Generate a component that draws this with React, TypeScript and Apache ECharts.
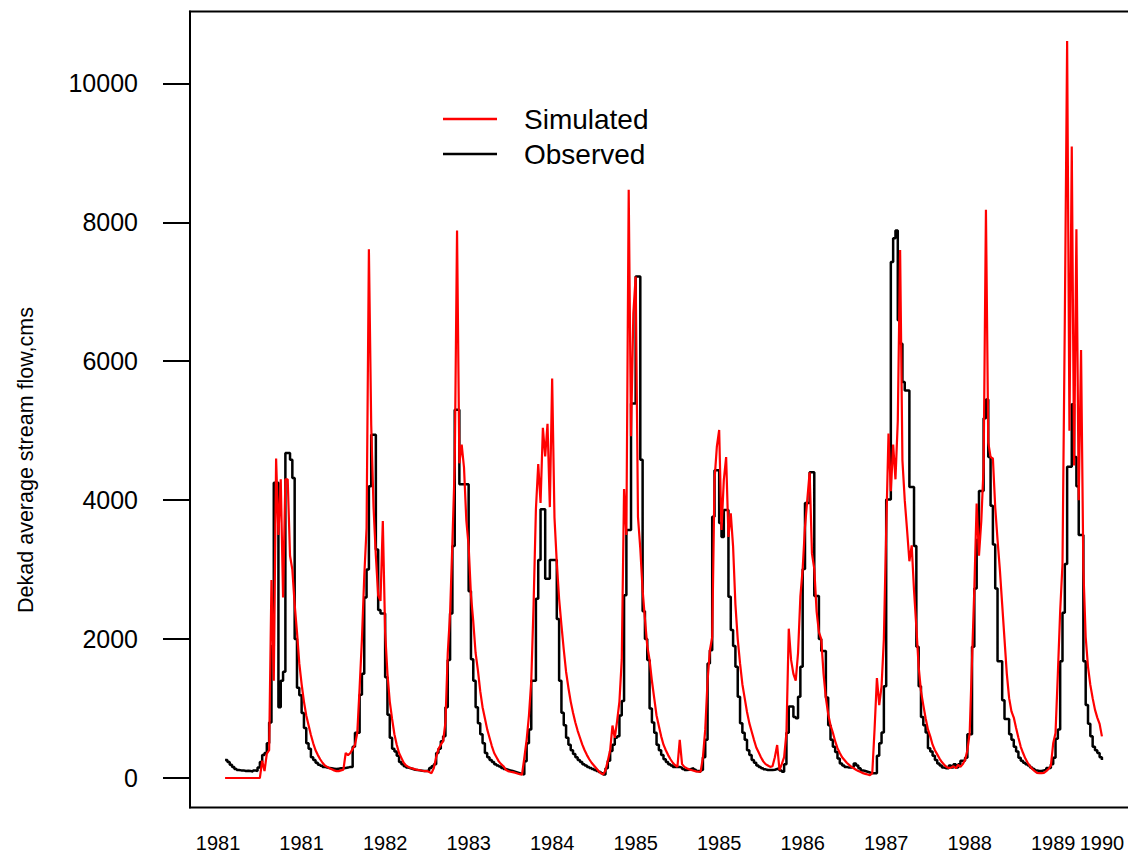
import React, { useEffect, useRef } from "react";
import * as echarts from "echarts";

// Dekad index runs 0..378; values in cms
const observed: number[] = [
  259, 230, 190, 160, 130, 115, 110, 110, 100, 105,
  100, 95, 110, 100, 150, 230, 330, 360, 500, 800,
  1900, 4250, 4250, 1020, 1400, 1530, 4680, 4680, 4580, 4320,
  2000, 1300, 1190, 935, 720, 500, 420, 300, 260, 220,
  190, 175, 160, 150, 145, 140, 135, 130, 135, 140,
  140, 145, 150, 160, 160, 450, 650, 650, 1200, 1500,
  2600, 3000, 4200, 4940, 4940, 3290, 2420, 2370, 2370, 1450,
  910, 580, 420, 380, 320, 230, 200, 170, 150, 140,
  130, 120, 115, 110, 105, 100, 100, 110, 145, 170,
  200, 360, 420, 530, 600, 1020, 1700, 2370, 3340, 5300,
  5300, 4230, 4230, 4230, 4230, 2690, 1710, 1400, 1020, 790,
  630, 500, 360, 300, 260, 230, 200, 180, 165, 145,
  130, 120, 110, 100, 90, 80, 70, 60, 50, 240,
  500, 700, 1400, 1400, 2580, 3140, 3870, 3870, 2870, 2870,
  3140, 3140, 3140, 2290, 1400, 940, 760, 580, 480, 400,
  345, 300, 260, 230, 200, 180, 160, 145, 130, 115,
  100, 85, 70, 50, 140, 250, 390, 480, 580, 600,
  900, 1110, 2630, 3570, 3570, 5390, 5390, 7220, 7220, 4580,
  2400, 2000, 1700, 1000, 800, 650, 480, 400, 330, 270,
  230, 200, 180, 160, 160, 160, 150, 130, 115, 120,
  130, 140, 120, 100, 90, 115, 300, 550, 1650, 1840,
  3760, 4430, 4430, 3670, 3470, 3860, 3860, 2610, 2130, 1900,
  1600, 1170, 790, 650, 550, 400, 330, 260, 220, 180,
  160, 140, 125, 115, 115, 115, 120, 130, 140, 110,
  90, 200, 650, 1030, 1030, 880, 860, 1170, 1600, 3010,
  3960, 3960, 4400, 4400, 2620, 2620, 2000, 1830, 1830, 1160,
  760, 550, 450, 375, 280, 210, 180, 160, 150, 150,
  160, 210, 180, 140, 110, 100, 90, 80, 70, 70,
  70, 320, 500, 655, 1320, 4010, 4010, 7430, 7770, 7880,
  6590, 6250, 5700, 5580, 5580, 4190, 4190, 3340, 1890, 1320,
  880, 760, 655, 430, 380, 320, 260, 210, 180, 150,
  140, 140, 180, 150, 200, 150, 200, 250, 250, 290,
  630, 630, 1890, 2730, 3430, 4130, 4130, 5180, 5450, 4620,
  3920, 3360, 2730, 1680, 1680, 1120, 850, 850, 630, 550,
  450, 380, 290, 250, 220, 200, 180, 150, 130, 110,
  100, 100, 110, 120, 145, 145, 200, 290, 565, 700,
  1680, 2380, 3080, 4480, 4480, 5380, 4620, 4200, 3500, 3500,
  1680, 1050, 780, 600, 450, 400, 360, 300, 260,
];

const simulated: number[] = [
  0, 0, 0, 0, 0, 0, 0, 0, 0, 0,
  0, 0, 0, 0, 0, 0, 250, 100, 350, 400,
  2850, 1400, 4600, 3500, 4300, 2600, 4300, 4300, 3200, 3000,
  2500, 2100, 1650, 1350, 1100, 900, 760, 620, 500, 400,
  330, 270, 220, 180, 160, 140, 125, 110, 100, 100,
  110, 120, 360, 330, 360, 420, 480, 650, 1300, 2000,
  2900, 3600, 7610, 5080, 3900, 3200, 2630, 2550, 3700, 2100,
  1500, 1100, 850, 630, 480, 360, 290, 220, 180, 160,
  145, 135, 125, 118, 112, 105, 100, 100, 85, 70,
  145, 300, 420, 480, 530, 800, 1800, 2370, 3400, 4500,
  7880, 4530, 4800, 4470, 3710, 3340, 2630, 2250, 1800, 1550,
  1250, 1020, 860, 700, 580, 460, 360, 300, 240, 200,
  170, 120, 100, 90, 85, 75, 65, 55, 50, 290,
  550, 900, 1400, 2500, 3870, 4520, 3960, 5040, 4630, 5100,
  3900, 5750, 3750, 3100, 2580, 2200, 1850, 1530, 1300, 1100,
  940, 800, 680, 580, 480, 400, 330, 270, 220, 180,
  140, 100, 70, 50, 110, 250, 400, 755, 580, 820,
  1100, 1700, 4160, 3500, 8470, 4920, 6690, 7220, 3760, 3300,
  2700, 2290, 1900, 1700, 1400, 1150, 900, 750, 600, 480,
  400, 330, 270, 220, 185, 160, 550, 200, 160, 140,
  125, 115, 105, 95, 90, 90, 300, 700, 1400, 1840,
  2030, 4290, 4770, 5010, 3570, 4290, 4620, 3470, 3810, 3330,
  2500, 2000, 1650, 1350, 1150, 950, 790, 670, 550, 440,
  370, 300, 240, 200, 180, 160, 170, 300, 475, 115,
  200, 300, 650, 2150, 1700, 1500, 1400, 1800, 2610, 3010,
  3620, 4010, 4400, 3230, 3010, 2400, 2100, 2000, 1500, 1150,
  920, 760, 655, 530, 430, 360, 300, 260, 220, 190,
  160, 140, 120, 100, 85, 70, 60, 50, 40, 70,
  710, 1440, 1050, 1320, 2000, 3570, 4960, 4130, 4800, 4300,
  5140, 7600, 4570, 4000, 3570, 3120, 3350, 2700, 2170, 1600,
  1250, 1050, 860, 700, 600, 480, 400, 340, 280, 230,
  190, 160, 145, 150, 170, 140, 190, 160, 200, 260,
  400, 650, 1700, 2730, 3950, 3200, 3700, 4480, 8180, 4830,
  4620, 4600, 3900, 3430, 3000, 2500, 2000, 1500, 1150, 960,
  870, 720, 580, 450, 360, 280, 220, 170, 130, 100,
  75, 70, 70, 75, 100, 130, 180, 500, 650, 1500,
  2400, 3080, 6580, 10610, 5000, 9090, 4500, 7900, 4000, 6160,
  3000, 2030, 1600, 1340, 1150, 985, 870, 780, 600,
];

const xTickValues: number[] = [-3, 33, 69, 105, 141, 177, 213, 249, 285, 321, 357, 378];
const xTickLabels: string[] = ["1981", "1981", "1982", "1983", "1984", "1985", "1985", "1986", "1987", "1988", "1989", "1990"];
const yTickValues: number[] = [0, 2000, 4000, 6000, 8000, 10000];
const legendNames: string[] = ["Simulated", "Observed"];
const yTitle = "Dekad average stream flow,cms";

const FONT = "'Liberation Sans', Arial, sans-serif";

export default function App() {
  const ref = useRef<HTMLDivElement>(null);

  useEffect(() => {
    if (!ref.current) return;
    const chart = echarts.init(ref.current, null, { renderer: "svg" });
    const n = observed.length - 1;
    const xPad = n * 0.04;
    const yMax = Math.max(...simulated, ...observed);
    const yPad = yMax * 0.04;

    chart.setOption({
      animation: false,
      backgroundColor: "#ffffff",
      grid: {
        left: 190,
        top: 11.5,
        width: 947,
        height: 796,
        show: true,
        borderColor: "#000",
        borderWidth: 2,
        backgroundColor: "transparent",
      },
      graphic: [
        {
          type: "line",
          shape: { x1: 443, y1: 119, x2: 497, y2: 119 },
          style: { stroke: "#ff0000", lineWidth: 2.5 },
        },
        {
          type: "text",
          x: 524,
          y: 119,
          style: {
            text: legendNames[0],
            font: `28px ${FONT}`,
            fill: "#000",
            textVerticalAlign: "middle",
          },
        },
        {
          type: "line",
          shape: { x1: 443, y1: 154, x2: 497, y2: 154 },
          style: { stroke: "#000", lineWidth: 2.5 },
        },
        {
          type: "text",
          x: 524,
          y: 154,
          style: {
            text: legendNames[1],
            font: `28px ${FONT}`,
            fill: "#000",
            textVerticalAlign: "middle",
          },
        },
        {
          type: "text",
          x: 26,
          y: 460,
          rotation: Math.PI / 2,
          style: {
            text: yTitle,
            font: `21.5px ${FONT}`,
            fill: "#000",
            textAlign: "center",
            textVerticalAlign: "middle",
          },
        },
      ],
      xAxis: {
        type: "value",
        min: -xPad,
        max: n + xPad,
        axisLine: { show: false },
        splitLine: { show: false },
        axisTick: { show: false },
        axisLabel: {
          customValues: xTickValues,
          showMinLabel: true,
          showMaxLabel: true,
          hideOverlap: false,
          formatter: (v: number) => {
            const k = xTickValues.findIndex((t) => Math.abs(t - v) < 0.01);
            return k >= 0 ? xTickLabels[k] : "";
          },
          fontFamily: FONT,
          fontSize: 20,
          color: "#000",
          margin: 25,
        },
      },
      yAxis: {
        type: "value",
        min: -yPad,
        max: yMax + yPad,
        axisLine: { show: true, onZero: false, lineStyle: { color: "#000", width: 2 } },
        splitLine: { show: false },
        axisTick: {
          show: true,
          customValues: yTickValues,
          length: 27,
          lineStyle: { color: "#000", width: 2 },
        },
        axisLabel: {
          customValues: yTickValues,
          formatter: (v: number) => String(Math.round(v)),
          fontFamily: FONT,
          fontSize: 25,
          color: "#000",
          margin: 52,
        },
      },
      series: [
        {
          name: "Observed",
          type: "line",
          step: "end",
          data: observed.map((v, i) => [i, v]),
          symbol: "none",
          lineStyle: { color: "#000", width: 2.5 },
          itemStyle: { color: "#000" },
          z: 2,
        },
        {
          name: "Simulated",
          type: "line",
          data: simulated.map((v, i) => [i, v]),
          symbol: "none",
          lineStyle: { color: "#ff0000", width: 2.2 },
          itemStyle: { color: "#ff0000" },
          z: 3,
        },
      ],
    });

    return () => chart.dispose();
  }, []);

  return (
    <div
      ref={ref}
      style={{ position: "fixed", left: 0, top: 0, width: 1140, height: 857, background: "#fff" }}
    />
  );
}
